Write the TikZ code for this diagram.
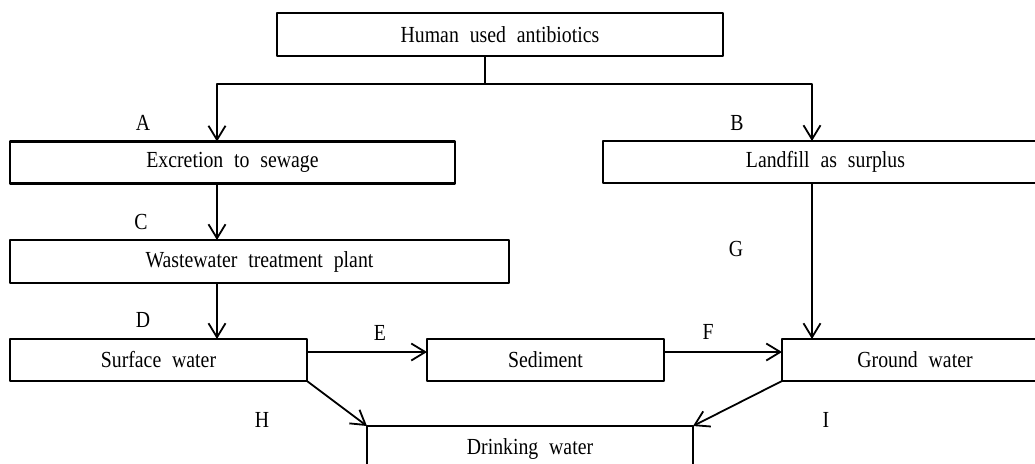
\documentclass[tikz,border=0pt]{standalone}
\usepackage{fontspec}
\setmainfont{Liberation Serif}[FakeStretch=0.86,WordSpace=2.2]
\usepackage{tikz}
\usetikzlibrary{arrows.meta}
\usetikzlibrary{positioning}

\begin{document}
\begin{tikzpicture}[line cap=round,line join=round,x=0.5pt,y=-0.5pt,
  font=\fontsize{11.5}{13}\selectfont,
  >={Straight Barb[length=7pt,width=8.5pt]},
  box/.style={draw,line width=1.3pt,rectangle,inner sep=0pt,outer sep=0pt,minimum height=21pt},
  flow/.style={->,line width=0.9pt},
  lbl/.style={inner sep=0pt}]
\useasboundingbox (0,0) rectangle (1035,463);
\clip (0,0) rectangle (1035,463);
% boxes
\node[box,minimum width=223pt,minimum height=21.5pt] (used) at (500,34.5) {Human used antibiotics};
\node[box,minimum width=222.5pt] (excr) at (232.5,162.5) {Excretion to sewage};
\node[box,minimum width=222.5pt] (land) at (825.5,162) {Landfill as surplus};
\node[box,minimum width=249.5pt,minimum height=21.5pt] (wwtp) at (259.5,261.5) {Wastewater treatment plant};
\node[box,minimum width=148.5pt] (surf) at (158.5,360) {Surface water};
\node[box,minimum width=118.5pt] (sed) at (545.5,360) {Sediment};
\node[box,minimum width=133pt] (gw) at (915,360) {Ground water};
\node[box,minimum width=163pt,minimum height=23pt] (drink) at (530,449) {Drinking water};
% helper lines
\coordinate (split) at (485,84);
\coordinate (colL) at (217,0);
\coordinate (colR) at (812,0);
\coordinate (rowE) at (0,352);
% connectors
\draw[line width=0.9pt] (used.south -| split) -- (split);
\draw[flow] (split) -| (excr.north -| colL);
\draw[flow] (split) -| (land.north -| colR);
\draw[flow] (excr.south -| colL) -- (wwtp.north -| colL);
\draw[flow] (wwtp.south -| colL) -- (surf.north -| colL);
\draw[flow] (land.south -| colR) -- (gw.north -| colR);
\draw[flow] (surf.east |- rowE) -- (sed.west |- rowE);
\draw[flow] (sed.east |- rowE) -- (gw.west |- rowE);
\draw[flow] (surf.south east) -- (drink.north west);
\draw[flow] (gw.south west) -- (drink.north east);
% letters
\node[lbl] (lblA) at (143,123) {A};
\node[lbl] (lblB) at (737,123) {B};
\node[lbl] (lblC) at (141,222) {C};
\node[lbl] (lblD) at (143,320) {D};
\node[lbl] (lblE) at (380,333) {E};
\node[lbl] (lblF) at (708,332) {F};
\node[lbl] (lblG) at (736,249) {G};
\node[lbl] (lblH) at (262,420) {H};
\node[lbl] (lblI) at (826,420) {I};
%\node[lbl] at (485,70) {};
\end{tikzpicture}
\end{document}
